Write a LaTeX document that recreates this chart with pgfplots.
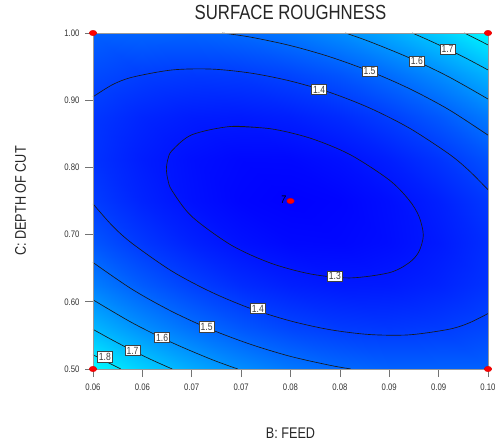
\documentclass[border=0pt]{standalone}
\usepackage{fontspec}
\setmainfont{Liberation Sans}[FakeStretch=0.82]
\usepackage{pgfplots}
\pgfplotsset{compat=1.18}
\tikzset{lbl/.style={fill=white, draw=black!75, line width=0.45bp, inner sep=1.6bp, font=\fontsize{10.5}{11}\selectfont, text=black!75}}
\begin{document}
\begin{tikzpicture}
\path[use as bounding box] (0,0) rectangle (495bp,444bp);
\begin{axis}[
  at={(93bp,75bp)}, anchor=south west,
  scale only axis, width=395bp, height=336bp,
  xmin=0.06, xmax=0.10, ymin=0.5, ymax=1.0,
  xtick={0.06,0.065,0.07,0.075,0.08,0.085,0.09,0.095,0.10},
  xticklabels={0.06,0.06,0.07,0.07,0.08,0.08,0.09,0.09,0.10},
  ytick={0.5,0.6,0.7,0.8,0.9,1.0},
  yticklabels={0.50,0.60,0.70,0.80,0.90,1.00},
  xtick pos=left, ytick pos=left,
  tick align=outside, major tick length=8bp,
  tick style={gray!90!black, line width=0.7bp},
  axis line style={gray!80, line width=0.6bp},
  ticklabel style={font=\fontsize{9.5}{10}\selectfont, text=black!80},
  yticklabel style={xshift=-2bp},
  xticklabel style={yshift=-3bp},
  colormap={sr}{rgb255=(0,0,255) rgb255=(0,255,255)},
  point meta min=1.25, point meta max=1.87,
  clip=false, axis on top,
  title={SURFACE ROUGHNESS},
  title style={at={(axis description cs:0.5,1.0238)}, anchor=base, font=\fontsize{20.5}{22}\selectfont, text=black!85},
  xlabel={B: FEED},
  xlabel style={at={(axis description cs:0.5,-0.2054)}, anchor=base, font=\fontsize{15.5}{17}\selectfont, text=black!85},
  ylabel={C: DEPTH OF CUT},
  ylabel style={at={(axis description cs:-0.1835,0.5)}, anchor=center, font=\fontsize{15.5}{17}\selectfont, text=black!85},
]
\addplot[surf, shader=interp, mesh/cols=9, point meta=explicit] table[x=x, y=y, meta=z] {
x y z
0.060 0.5000 1.862
0.065 0.5000 1.756
0.070 0.5000 1.667
0.075 0.5000 1.596
0.080 0.5000 1.542
0.085 0.5000 1.506
0.090 0.5000 1.487
0.095 0.5000 1.486
0.100 0.5000 1.485
0.060 0.5625 1.691
0.065 0.5625 1.596
0.070 0.5625 1.518
0.075 0.5625 1.458
0.080 0.5625 1.415
0.085 0.5625 1.390
0.090 0.5625 1.382
0.095 0.5625 1.392
0.100 0.5625 1.419
0.060 0.6250 1.557
0.065 0.6250 1.473
0.070 0.6250 1.406
0.075 0.6250 1.356
0.080 0.6250 1.325
0.085 0.6250 1.310
0.090 0.6250 1.313
0.095 0.6250 1.334
0.100 0.6250 1.372
0.060 0.6875 1.459
0.065 0.6875 1.385
0.070 0.6875 1.330
0.075 0.6875 1.291
0.080 0.6875 1.270
0.085 0.6875 1.267
0.090 0.6875 1.281
0.095 0.6875 1.312
0.100 0.6875 1.361
0.060 0.7500 1.397
0.065 0.7500 1.335
0.070 0.7500 1.290
0.075 0.7500 1.262
0.080 0.7500 1.252
0.085 0.7500 1.260
0.090 0.7500 1.285
0.095 0.7500 1.327
0.100 0.7500 1.387
0.060 0.8125 1.371
0.065 0.8125 1.320
0.070 0.8125 1.286
0.075 0.8125 1.269
0.080 0.8125 1.270
0.085 0.8125 1.289
0.090 0.8125 1.325
0.095 0.8125 1.378
0.100 0.8125 1.449
0.060 0.8750 1.382
0.065 0.8750 1.341
0.070 0.8750 1.318
0.075 0.8750 1.313
0.080 0.8750 1.325
0.085 0.8750 1.354
0.090 0.8750 1.401
0.095 0.8750 1.465
0.100 0.8750 1.547
0.060 0.9375 1.429
0.065 0.9375 1.399
0.070 0.9375 1.387
0.075 0.9375 1.392
0.080 0.9375 1.415
0.085 0.9375 1.455
0.090 0.9375 1.513
0.095 0.9375 1.589
0.100 0.9375 1.681
0.060 1.0000 1.485
0.065 1.0000 1.493
0.070 1.0000 1.492
0.075 1.0000 1.508
0.080 1.0000 1.542
0.085 1.0000 1.593
0.090 1.0000 1.662
0.095 1.0000 1.748
0.100 1.0000 1.852
};
% contour 1.3
\addplot[black!90, line width=0.65bp, smooth] coordinates {
(0.074,0.861) (0.078,0.8575) (0.082,0.8435) (0.086,0.8193) (0.090,0.7813) (0.092,0.7515) (0.093,0.7275) (0.09345,0.6993) (0.093,0.6745) (0.092,0.658) (0.090,0.6433) (0.086,0.6355) (0.082,0.6415) (0.078,0.6575) (0.074,0.6843) (0.070,0.727) (0.068,0.7655) (0.0676,0.7805) (0.06743,0.7974) (0.0676,0.813) (0.068,0.825) (0.070,0.8485) (0.074,0.861) (0.078,0.8575)};
% contour 1.4 upper
\addplot[black!90, line width=0.65bp, smooth] coordinates {
(0.060,0.905) (0.062,0.9233) (0.064,0.9343) (0.068,0.945) (0.072,0.9463) (0.076,0.9403) (0.080,0.9285) (0.084,0.9115) (0.088,0.8885) (0.092,0.8588) (0.096,0.8205) (0.098,0.7963) (0.100,0.7668)};
% contour 1.4 lower
\addplot[black!90, line width=0.65bp, smooth] coordinates {
(0.060,0.7458) (0.062,0.7125) (0.064,0.6865) (0.068,0.6455) (0.072,0.6143) (0.076,0.5898) (0.080,0.5715) (0.084,0.5585) (0.088,0.5513) (0.092,0.5508) (0.096,0.559) (0.098,0.568) (0.100,0.5825)};
% contour 1.5
\addplot[black!90, line width=0.65bp, smooth] coordinates {
(0.0731,1.0) (0.076,0.99375) (0.080,0.98125) (0.084,0.9645) (0.088,0.94325) (0.092,0.9175) (0.096,0.88625) (0.100,0.848)};
\addplot[black!90, line width=0.65bp, smooth] coordinates {
(0.060,0.6585) (0.064,0.61825) (0.068,0.5855) (0.072,0.5585) (0.076,0.5365) (0.080,0.51875) (0.084,0.5055) (0.08612,0.500)};
% contour 1.6
\addplot[black!90, line width=0.65bp, smooth] coordinates {
(0.08556,1.0) (0.088,0.98725) (0.092,0.96325) (0.096,0.935) (0.100,0.90175)};
\addplot[black!90, line width=0.65bp, smooth] coordinates {
(0.060,0.603) (0.064,0.5685) (0.068,0.53925) (0.072,0.51425) (0.07466,0.500)};
% contour 1.7
\addplot[black!90, line width=0.65bp, smooth] coordinates {
(0.09233,1.0) (0.094,0.98925) (0.096,0.9755) (0.098,0.96075) (0.100,0.945)};
\addplot[black!90, line width=0.65bp, smooth] coordinates {
(0.060,0.559) (0.062,0.54275) (0.064,0.5275) (0.066,0.51325) (0.06802,0.500)};
% contour 1.8
\addplot[black!90, line width=0.65bp, smooth] coordinates {
(0.0976,1.0) (0.0988,0.99125) (0.100,0.98225)};
\addplot[black!90, line width=0.65bp, smooth] coordinates {
(0.060,0.52125) (0.0614,0.5105) (0.06282,0.500)};
% labels
\node[lbl] at (axis cs:0.0845,0.638) {1.3};
\node[lbl] at (axis cs:0.0829,0.916) {1.4};
\node[lbl] at (axis cs:0.0767,0.590) {1.4};
\node[lbl] at (axis cs:0.0880,0.943) {1.5};
\node[lbl] at (axis cs:0.0715,0.563) {1.5};
\node[lbl] at (axis cs:0.0928,0.958) {1.6};
\node[lbl] at (axis cs:0.0670,0.547) {1.6};
\node[lbl] at (axis cs:0.0959,0.976) {1.7};
\node[lbl] at (axis cs:0.0640,0.5275) {1.7};
\node[lbl] at (axis cs:0.0612,0.518) {1.8};
% design points
\addplot[only marks, mark=*, mark size=3bp, mark options={draw=red!85!black, fill=red, xscale=1.25, yscale=0.9}] coordinates {
(0.06,0.5) (0.06,1.0) (0.10,0.5) (0.10,1.0)};
\addplot[only marks, mark=*, mark size=3bp, mark options={draw=red!85!black, fill=red, xscale=1.25, yscale=0.9}] coordinates {(0.08,0.75)}
  node[pos=0, anchor=east, xshift=-4.5bp, yshift=0.8bp, inner sep=0pt, text=black, font=\fontsize{11}{11}\selectfont\itshape] {7};
\end{axis}
\end{tikzpicture}
\end{document}
